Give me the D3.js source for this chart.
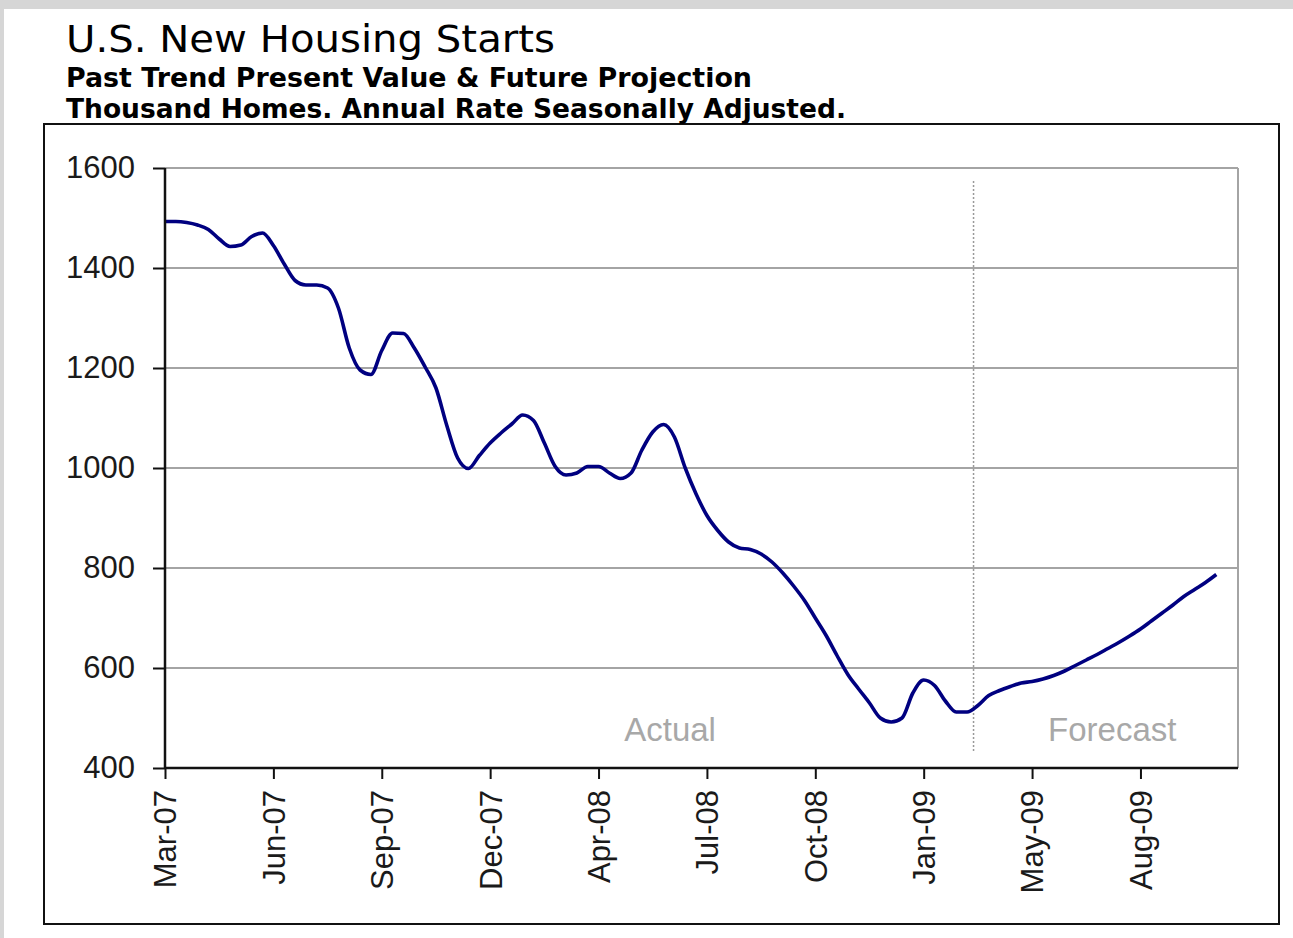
<!DOCTYPE html>
<html>
<head>
<meta charset="utf-8">
<script src="https://cdn.jsdelivr.net/npm/d3@7"></script>
<style>
  body { margin: 0; background: #d6d6d6; }
  svg { display: block; }
</style>
</head>
<body>
<svg width="1293" height="938"></svg>
<script>
// Housing starts, thousand homes, one value per category step
var starts = [
  1493, 1493, 1491, 1486, 1477, 1458, 1443, 1446, 1463, 1470,
  1445, 1408, 1375, 1366, 1366, 1360, 1320, 1240, 1196, 1187,
  1235, 1270, 1269, 1240, 1202, 1160, 1085, 1020, 999, 1025,
  1050, 1070, 1088, 1106, 1095, 1050, 1003, 986, 990, 1003,
  1003, 990, 979, 990, 1036, 1072, 1087, 1062, 1000, 948,
  905, 875, 852, 840, 837, 828, 812, 790, 764, 735,
  700, 665, 625, 587, 558, 530, 500, 492, 500, 550,
  576, 565, 534, 512, 512, 525, 545, 555, 563, 570,
  573, 578, 585, 594, 605, 616, 627, 639, 651, 664,
  678, 694, 710, 726, 743, 757, 771, 787
];

// category axis labels, one every 10 steps
var tickLabels = ['Mar-07', 'Jun-07', 'Sep-07', 'Dec-07', 'Apr-08',
                  'Jul-08', 'Oct-08', 'Jan-09', 'May-09', 'Aug-09'];
var tickIndex = [0, 10, 20, 30, 40, 50, 60, 70, 80, 90];

var yTicks = [400, 600, 800, 1000, 1200, 1400, 1600];

// step where the forecast begins
var forecastStart = 74.6;

var svg = d3.select('svg');

// white page with the grey marble edge showing at top/left
svg.append('rect')
    .attr('x', 4).attr('y', 9)
    .attr('width', 1293).attr('height', 938)
    .attr('fill', 'white');

// outer chart box
svg.append('rect')
    .attr('x', 44).attr('y', 124)
    .attr('width', 1235).attr('height', 800)
    .attr('fill', 'white')
    .attr('stroke', '#111')
    .attr('stroke-width', 2);

// titles
svg.append('text')
    .attr('x', 66).attr('y', 52)
    .attr('textLength', 489)
    .attr('lengthAdjust', 'spacingAndGlyphs')
    .style('font-family', 'DejaVu Sans, sans-serif')
    .style('font-size', '37px')
    .text('U.S. New Housing Starts');

svg.append('text')
    .attr('x', 66).attr('y', 87)
    .attr('textLength', 686)
    .attr('lengthAdjust', 'spacingAndGlyphs')
    .style('font-family', 'DejaVu Sans, sans-serif')
    .style('font-size', '26px')
    .style('font-weight', 'bold')
    .text('Past Trend Present Value & Future Projection');

svg.append('text')
    .attr('x', 66).attr('y', 118)
    .attr('textLength', 780)
    .attr('lengthAdjust', 'spacingAndGlyphs')
    .style('font-family', 'DejaVu Sans, sans-serif')
    .style('font-size', '26px')
    .style('font-weight', 'bold')
    .text('Thousand Homes. Annual Rate Seasonally Adjusted.');

var padding = {t: 168, l: 165};
var chartWidth = 1073;
var chartHeight = 600;

var chartG = svg.append('g')
    .attr('transform', 'translate(' + [padding.l, padding.t] + ')');

var xScale = d3.scaleLinear()
    .domain([0, 99])
    .range([0, chartWidth]);

var yScale = d3.scaleLinear()
    .domain([400, 1600])
    .range([chartHeight, 0]);

// horizontal gridlines
chartG.selectAll('.grid')
    .data(yTicks.slice(1))
    .enter()
    .append('line')
    .attr('class', 'grid')
    .attr('x1', 0).attr('x2', chartWidth)
    .attr('y1', d => yScale(d)).attr('y2', d => yScale(d))
    .attr('stroke', '#a4a4a4')
    .attr('stroke-width', 2);

// right border of the plot area
chartG.append('line')
    .attr('x1', chartWidth).attr('x2', chartWidth)
    .attr('y1', 0).attr('y2', chartHeight)
    .attr('stroke', '#a4a4a4')
    .attr('stroke-width', 2);

// forecast divider
chartG.append('line')
    .attr('x1', xScale(forecastStart)).attr('x2', xScale(forecastStart))
    .attr('y1', yScale(1574)).attr('y2', yScale(430))
    .attr('stroke', '#999')
    .attr('stroke-width', 1.5)
    .attr('stroke-dasharray', '2,2');

// Actual / Forecast labels
chartG.append('text')
    .attr('x', xScale(46.6)).attr('y', yScale(454))
    .attr('text-anchor', 'middle')
    .style('font-family', 'Liberation Sans, Arial, sans-serif')
    .style('font-size', '33px')
    .style('fill', '#a8a8a8')
    .text('Actual');

chartG.append('text')
    .attr('x', xScale(87.4)).attr('y', yScale(454))
    .attr('text-anchor', 'middle')
    .style('font-family', 'Liberation Sans, Arial, sans-serif')
    .style('font-size', '33px')
    .style('fill', '#a8a8a8')
    .text('Forecast');

// the series line
var line = d3.line()
    .x((d, i) => xScale(i))
    .y(d => yScale(d))
    .curve(d3.curveMonotoneX);

chartG.append('path')
    .datum(starts)
    .attr('d', line)
    .attr('fill', 'none')
    .attr('stroke', '#000080')
    .attr('stroke-width', 3.6)
    .attr('stroke-linejoin', 'round');

// y axis
var yAxis = d3.axisLeft(yScale)
    .tickValues(yTicks)
    .tickSize(12)
    .tickPadding(18)
    .tickFormat(d3.format('d'));

var yG = chartG.append('g')
    .attr('class', 'y-axis')
    .call(yAxis);

// x axis
var xAxis = d3.axisBottom(xScale)
    .tickValues(tickIndex)
    .tickSize(11)
    .tickFormat((d, i) => tickLabels[i]);

var xG = chartG.append('g')
    .attr('class', 'x-axis')
    .attr('transform', `translate(0, ${chartHeight})`)
    .call(xAxis);

xG.selectAll('text')
    .attr('transform', 'rotate(-90)')
    .attr('text-anchor', 'end')
    .attr('x', -22)
    .attr('y', 0)
    .attr('dy', '0.35em');

[yG, xG].forEach(function(g) {
    g.select('.domain').attr('stroke', '#111').attr('stroke-width', 2.5);
    g.selectAll('.tick line').attr('stroke', '#111').attr('stroke-width', 2);
    g.selectAll('text')
        .style('font-family', 'Liberation Sans, Arial, sans-serif')
        .style('font-size', '31px')
        .style('fill', '#1a1a1a');
});
// keep the domain lines from sticking out at the ends
yG.select('.domain').attr('d', `M0,${chartHeight}V0`);
xG.select('.domain').attr('d', `M0,0H${chartWidth}`);
</script>
</body>
</html>
